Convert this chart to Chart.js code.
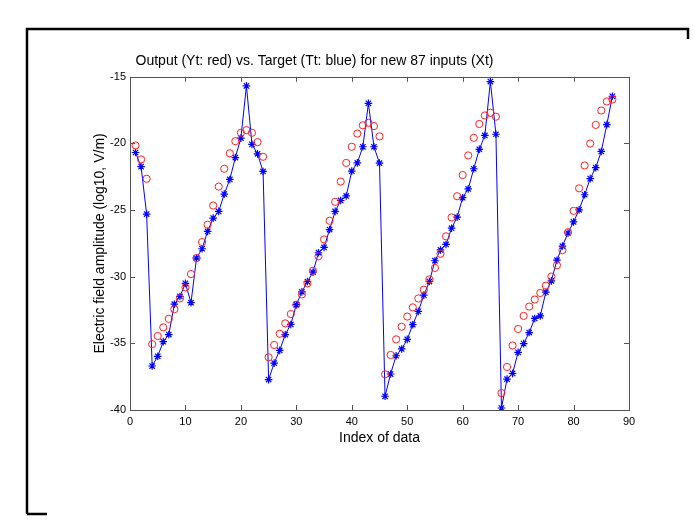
<!DOCTYPE html>
<html>
<head>
<meta charset="utf-8">
<script src="https://cdn.jsdelivr.net/npm/chart.js@4/dist/chart.umd.min.js"></script>
<style>
html,body{margin:0;padding:0;background:#fff;}
#wrap{width:694px;height:531px;position:relative;}
</style>
</head>
<body>
<div id="wrap"><canvas id="c" width="694" height="531"></canvas></div>
<script>
const TITLE = 'Output (Yt: red) vs. Target (Tt: blue) for new 87 inputs (Xt)';
const X_LABEL = 'Index of data';
const Y_LABEL = 'Electric field amplitude (log10, V/m)';
const X_TICKS = [0, 10, 20, 30, 40, 50, 60, 70, 80, 90];
const Y_TICKS = [-40, -35, -30, -25, -20, -15];

const indices = Array.from({length: 87}, (_, i) => i + 1);

const target = [
 -20.68, -21.74, -25.3, -36.7, -35.97, -34.87, -34.34, -32.06, -31.48, -30.5,
 -31.95, -28.6, -27.9, -26.6, -25.6, -25.1, -23.8, -22.7, -21.06, -19.6,
 -15.68, -20.07, -20.78, -22.1, -37.72, -36.48, -35.53, -34.34, -33.58, -32.1,
 -31.14, -30.36, -29.66, -28.2, -27.8, -26.46, -25.1, -24.28, -23.94, -22.08,
 -21.46, -20.25, -16.99, -20.25, -21.48, -38.97, -37.3, -35.93, -35.42, -34.7,
 -33.6, -32.6, -31.38, -30.36, -28.8, -27.99, -27.58, -26.36, -25.53, -24.07,
 -23.41, -21.9, -20.44, -19.4, -15.36, -19.31, -39.85, -37.68, -37.26, -35.67,
 -35.02, -34.19, -33.13, -32.94, -31.16, -30.31, -28.76, -27.7, -26.72, -25.89,
 -24.98, -23.85, -22.64, -21.82, -20.6, -18.59, -16.46
];

const output = [
 -20.15, -21.2, -22.65, -35.06, -34.45, -33.8, -33.16, -32.44, -31.63, -30.8,
 -29.8, -28.6, -27.4, -26.1, -24.66, -23.24, -21.9, -20.74, -19.83, -19.2,
 -19.0, -19.2, -19.9, -21.0, -36.04, -35.12, -34.28, -33.5, -32.8, -32.1,
 -31.33, -30.5, -29.55, -28.47, -27.2, -25.8, -24.38, -22.86, -21.46, -20.25,
 -19.26, -18.64, -18.45, -18.7, -19.47, -37.32, -35.87, -34.7, -33.75, -32.99,
 -32.3, -31.63, -30.97, -30.2, -29.34, -28.28, -26.97, -25.55, -23.96, -22.37,
 -20.9, -19.58, -18.54, -17.9, -17.7, -17.99, -38.73, -36.77, -35.16, -33.92,
 -32.94, -32.24, -31.71, -31.22, -30.67, -29.99, -29.14, -28.01, -26.66, -25.06,
 -23.37, -21.65, -20.01, -18.61, -17.53, -16.85, -16.7
];

const FONT = '"Liberation Sans", Arial, Helvetica, sans-serif';
const AXIS_COLOR = '#555555';

const framePlugin = {
  id: 'frame',
  afterDraw(chart) {
    const ctx = chart.ctx;
    const a = chart.chartArea;
    const xs = chart.scales.x, ys = chart.scales.y;
    ctx.save();
    ctx.strokeStyle = AXIS_COLOR;
    ctx.lineWidth = 1;
    ctx.strokeRect(Math.round(a.left) + 0.5, Math.round(a.top) + 0.5,
                   Math.round(a.right - a.left), Math.round(a.bottom - a.top));
    ctx.beginPath();
    const tl = 5;
    X_TICKS.forEach(v => {
      const px = Math.round(xs.getPixelForValue(v)) + 0.5;
      ctx.moveTo(px, a.bottom); ctx.lineTo(px, a.bottom - tl);
      ctx.moveTo(px, a.top); ctx.lineTo(px, a.top + tl);
    });
    Y_TICKS.forEach(v => {
      const py = Math.round(ys.getPixelForValue(v)) + 0.5;
      ctx.moveTo(a.left, py); ctx.lineTo(a.left + tl, py);
      ctx.moveTo(a.right, py); ctx.lineTo(a.right - tl, py);
    });
    ctx.stroke();
    ctx.strokeStyle = '#000';
    ctx.lineWidth = 2.5;
    ctx.beginPath();
    ctx.moveTo(27, 514); ctx.lineTo(27, 29); ctx.lineTo(688, 29); ctx.lineTo(688, 39);
    ctx.moveTo(27, 514); ctx.lineTo(47, 514);
    ctx.stroke();
    ctx.restore();
  }
};

new Chart(document.getElementById('c'), {
  type: 'line',
  data: {
    datasets: [
      {
        label: 'Yt (output)',
        data: indices.map((x, i) => ({x: x, y: output[i]})),
        showLine: false,
        borderColor: '#ff0000',
        backgroundColor: 'rgba(0,0,0,0)',
        pointStyle: 'circle',
        pointRadius: 3.6,
        pointBorderWidth: 1,
        pointBorderColor: '#ff2020',
        pointBackgroundColor: 'rgba(0,0,0,0)'
      },
      {
        label: 'Tt (target)',
        data: indices.map((x, i) => ({x: x, y: target[i]})),
        showLine: true,
        borderColor: '#0000ff',
        borderWidth: 1,
        backgroundColor: 'rgba(0,0,0,0)',
        pointStyle: 'star',
        pointRadius: 3.8,
        pointBorderWidth: 1.2,
        pointBorderColor: '#0000ff',
        tension: 0
      }
    ]
  },
  options: {
    responsive: false,
    animation: false,
    devicePixelRatio: 1,
    layout: { padding: { left: 0, right: 65, top: 0, bottom: 0 } },
    plugins: {
      legend: { display: false },
      tooltip: { enabled: false },
      title: {
        display: true,
        text: TITLE,
        color: '#000',
        font: { family: FONT, size: 14, weight: 'normal' },
        padding: { top: 53, bottom: 7 }
      }
    },
    scales: {
      x: {
        type: 'linear',
        min: 0, max: 90,
        afterBuildTicks(scale) { scale.ticks = X_TICKS.map(v => ({value: v})); },
        afterFit(scale) { scale.height = 121; },
        grid: { display: false, drawTicks: false },
        border: { display: false },
        ticks: { color: '#000', font: { family: FONT, size: 11 }, padding: 5, maxRotation: 0 },
        title: { display: true, text: X_LABEL, color: '#000', font: { family: FONT, size: 14 }, padding: { top: 0, bottom: 84 } }
      },
      y: {
        type: 'linear',
        min: -40, max: -15,
        afterBuildTicks(scale) { scale.ticks = Y_TICKS.map(v => ({value: v})); },
        afterFit(scale) { scale.width = 130; },
        grid: { display: false, drawTicks: false },
        border: { display: false },
        ticks: { color: '#000', font: { family: FONT, size: 11 }, padding: 4 },
        title: { display: true, text: Y_LABEL, color: '#000', font: { family: FONT, size: 14 }, padding: { top: 92, bottom: 0 } }
      }
    }
  },
  plugins: [framePlugin]
});
</script>
</body>
</html>
